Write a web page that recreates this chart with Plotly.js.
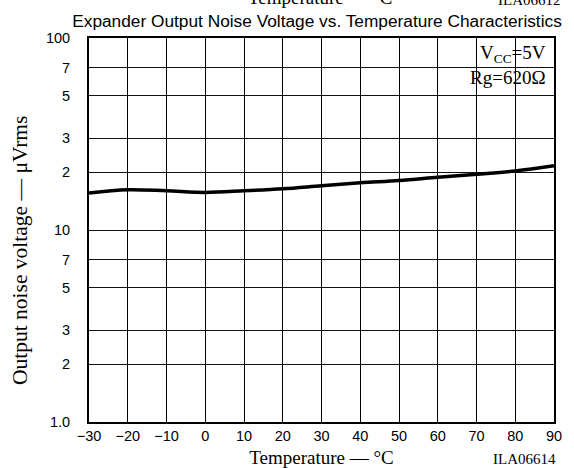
<!DOCTYPE html>
<html>
<head>
<meta charset="utf-8">
<script src="https://cdn.plot.ly/plotly-3.0.1.min.js"></script>
<style>html,body{margin:0;padding:0;background:#fff;}#chart{width:574px;height:468px;}</style>
</head>
<body>
<div id="chart"></div>
<script>
const temperatures = [-30, -20, -10, 0, 10, 20, 30, 40, 50, 60, 70, 80, 90];
const noiseVoltage = [15.6, 16.2, 16.0, 15.7, 16.0, 16.4, 17.0, 17.6, 18.1, 18.8, 19.5, 20.3, 21.6];
const xTickVals = [-30, -20, -10, 0, 10, 20, 30, 40, 50, 60, 70, 80, 90];
const xTickText = ['\u221230', '\u221220', '\u221210', '0', '10', '20', '30', '40', '50', '60', '70', '80', '90'];
const yTickVals = [1, 2, 3, 5, 7, 10, 20, 30, 50, 70, 100];
const yTickText = ['1.0', '2', '3', '5', '7', '10', '2', '3', '5', '7', '100'];

const sans = 'Liberation Sans, Arial, sans-serif';
const serif = 'Liberation Serif, Times New Roman, serif';

const trace = {
  x: temperatures, y: noiseVoltage, type: 'scatter', mode: 'lines',
  line: {color: '#000', width: 3.5, shape: 'spline', smoothing: 1},
  hoverinfo: 'skip'
};

const layout = {
  width: 574, height: 468,
  margin: {l: 89, r: 20, t: 38, b: 46},
  paper_bgcolor: '#fff', plot_bgcolor: '#fff',
  showlegend: false,
  title: {
    text: 'Expander Output Noise Voltage vs. Temperature Characteristics',
    font: {family: sans, size: 17.3, color: '#000'},
    x: 317 / 574, xanchor: 'center', xref: 'container',
    y: 1 - 20.5 / 468, yanchor: 'middle', yref: 'container'
  },
  xaxis: {
    range: [-30, 90], tickvals: xTickVals, ticktext: xTickText,
    showgrid: true, gridcolor: '#000', gridwidth: 1,
    showline: true, linecolor: '#000', linewidth: 2, mirror: true,
    ticks: '', zeroline: false,
    tickfont: {family: sans, size: 14.5, color: '#000'},
    title: {text: 'Temperature \u2014 \u00B0C', font: {family: serif, size: 19, color: '#000'}, standoff: 7}
  },
  yaxis: {
    type: 'log', range: [0, 2], tickvals: yTickVals, ticktext: yTickText,
    showgrid: true, gridcolor: '#111', gridwidth: 1,
    showline: true, linecolor: '#000', linewidth: 2, mirror: true,
    ticks: 'outside', ticklen: 14, tickcolor: 'rgba(0,0,0,0)',
    zeroline: false,
    tickfont: {family: sans, size: 14.5, color: '#000'}
  },
  shapes: [
    {type: 'rect', xref: 'paper', yref: 'paper', x0: 0.802, x1: 1, y0: 0.852, y1: 1,
     fillcolor: '#fff', line: {width: 0}, layer: 'between'}
  ],
  annotations: [
    {text: 'V<sub>CC</sub>=5V<br>Rg=620\u03A9', xref: 'paper', yref: 'paper', x: 0.988, y: 0.995,
     xanchor: 'right', yanchor: 'top', align: 'right', showarrow: false,
     font: {family: serif, size: 19, color: '#000'}},
    {text: 'Output noise voltage \u2014 \u03BCVrms', xref: 'paper', yref: 'paper',
     x: (20 - 89) / 465, y: (422 - 251) / 384, xanchor: 'center', yanchor: 'middle',
     textangle: -90, showarrow: false, font: {family: serif, size: 21.5, color: '#000'}},
    {text: 'ILA06614', xref: 'paper', yref: 'paper', x: (524 - 89) / 465, y: (422 - 459) / 384,
     xanchor: 'center', yanchor: 'middle', showarrow: false,
     font: {family: serif, size: 15, color: '#000'}},
    {text: 'Temperature \u2014 \u00B0C', xref: 'paper', yref: 'paper', x: (320 - 89) / 465, y: (422 - 10) / 384,
     xanchor: 'center', yanchor: 'bottom', showarrow: false,
     font: {family: serif, size: 19, color: '#000'}},
    {text: 'ILA06612', xref: 'paper', yref: 'paper', x: (529 - 89) / 465, y: (422 - 10) / 384,
     xanchor: 'center', yanchor: 'bottom', showarrow: false,
     font: {family: serif, size: 15, color: '#000'}}
  ]
};

Plotly.newPlot('chart', [trace], layout, {staticPlot: true, displayModeBar: false});
</script>
</body>
</html>
